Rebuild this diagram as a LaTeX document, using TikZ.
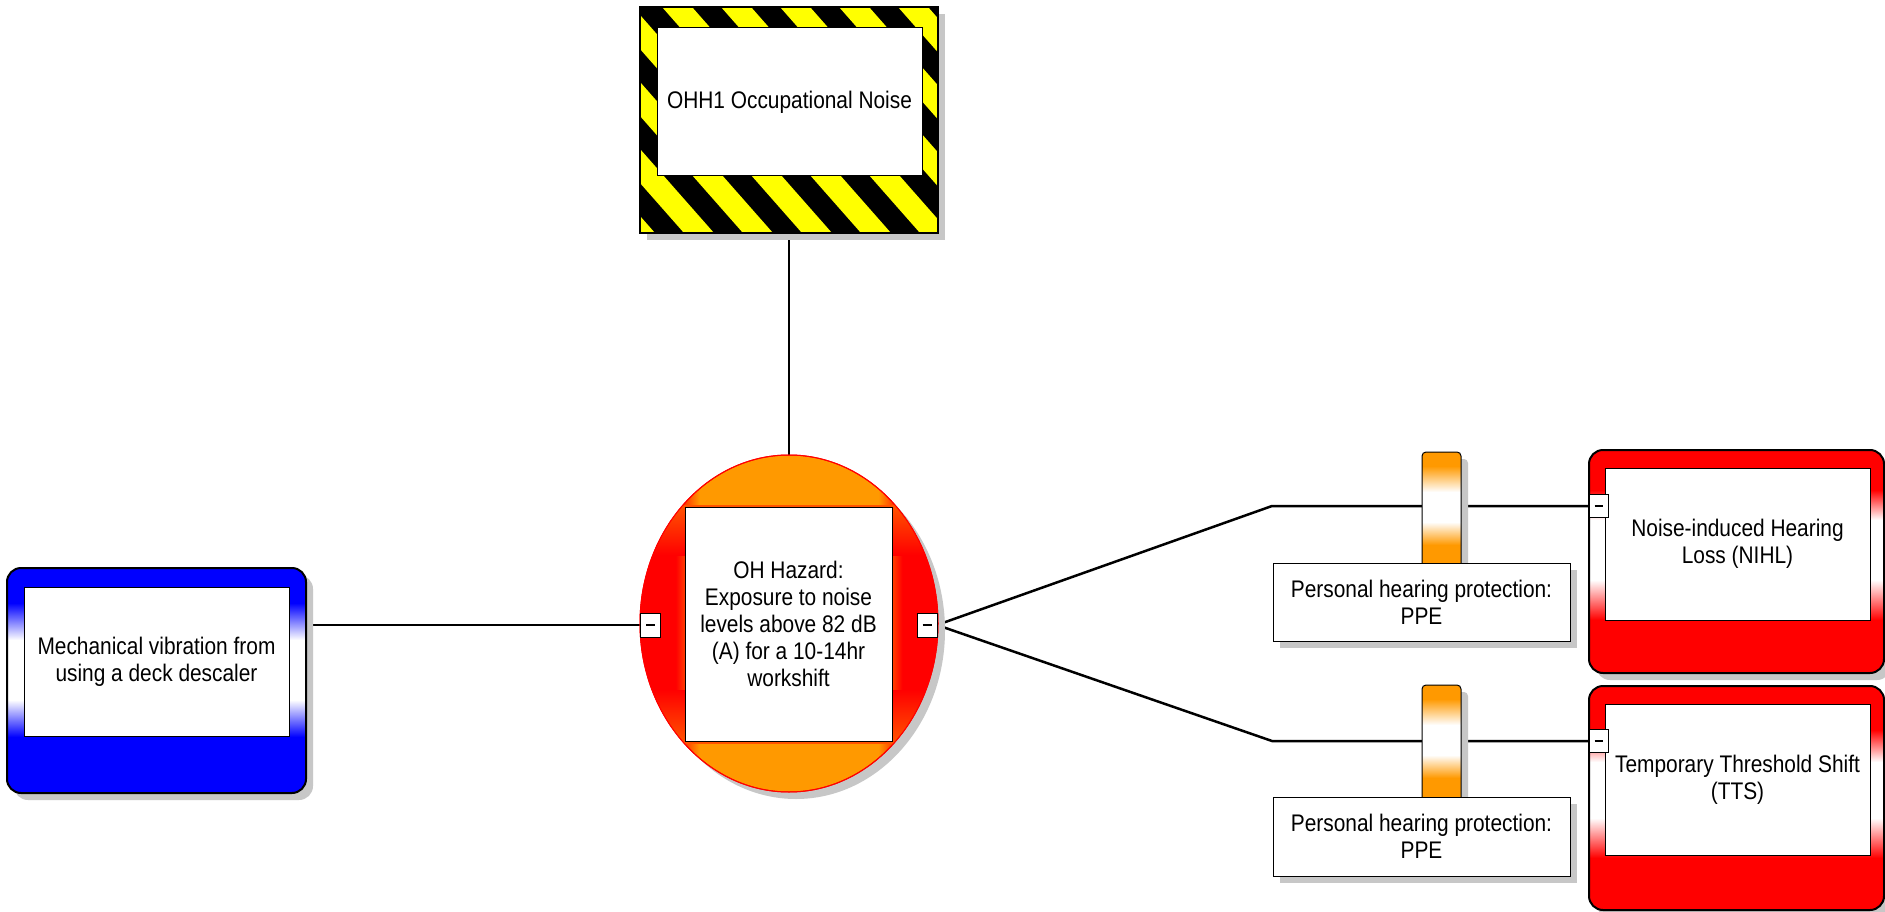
\documentclass[tikz,border=0pt]{standalone}
\usepackage{fontspec}
\setmainfont{Liberation Sans}[FakeStretch=0.87]
\usetikzlibrary{shapes.geometric,shadows}
\definecolor{bworange}{RGB}{255,153,0}
\definecolor{bwred}{RGB}{255,0,0}
\definecolor{bwblue}{RGB}{0,0,255}
\definecolor{bwyellow}{RGB}{255,255,0}
\colorlet{shadowc}{black!22}
\colorlet{redorange}{bworange!55!bwred}
\pgfdeclarehorizontalshading{ohgrad}{100bp}{rgb(0bp)=(1,0,0); rgb(31bp)=(1,0,0); rgb(35bp)=(1,0.6,0); rgb(65bp)=(1,0.6,0); rgb(69bp)=(1,0,0); rgb(100bp)=(1,0,0)}
\pgfdeclarelayer{bg}
\pgfsetlayers{bg,main}
% gradient fill: #1 colour, #2 x1, #3 ytop, #4 x2, #5 ybottom, #6..#9 band limits
\newcommand\gradfill[9]{%
  \fill[shadowc, rounded corners=\gradr] ({#2+7},{#3+7}) rectangle ({#4+7},{#5+7});
  \begin{scope}
    \clip[rounded corners=\gradr] (#2,#3) rectangle (#4,#5);
    \fill[#1] (#2,#3) rectangle (#4,#5);
    \shade[top color=#1, bottom color=white] (#2,#6) rectangle (#4,#7);
    \fill[white] (#2,#7) rectangle (#4,#8);
    \shade[top color=white, bottom color=#1] (#2,#8) rectangle (#4,#9);
  \end{scope}}
\begin{document}
\begin{tikzpicture}[x=1pt,y=-1pt,
  every node/.style={inner sep=0pt, outer sep=0pt},
  txt/.style={font=\fontsize{24}{27}\selectfont, align=center},
  shad/.style={drop shadow={shadow xshift=7pt,shadow yshift=-7pt,fill=shadowc,opacity=1}},
  outerbox/.style={draw=black, line width=2pt, rounded corners=14pt},
  innerbox/.style={draw=black, line width=1pt, fill=white, txt},
  minusbox/.style={draw=black, line width=1pt, fill=white, minimum width=20pt, minimum height=24pt},
  barrierbox/.style={draw=black, line width=1pt, rounded corners=4pt, minimum width=39pt},
  ppebox/.style={draw=black, line width=1pt, fill=white, minimum width=297pt, minimum height=78pt, txt, shad},
  conn/.style={draw=black, line width=2.5pt}
]
\begin{pgfonlayer}{bg}
\fill[white] (0,0) rectangle (1885,912);
\end{pgfonlayer}
\useasboundingbox (0,0) rectangle (1885,912);

% cause (threat)
\def\gradr{14pt}
\gradfill{bwblue}{7}{568}{306}{793}{603}{640}{700}{737}
\node[outerbox, minimum width=299pt, minimum height=225pt] (cause) at (156.5,680.5) {};
\node[innerbox, minimum width=265pt, minimum height=149pt] (causet) at (156.5,661.5) {Mechanical vibration from\\using a deck descaler};

% hazard
\fill[shadowc] (647,14) rectangle (945,240);
\begin{scope}
\clip (640,7) rectangle (938,233);
\fill[black] (640,7) rectangle (938,233);
\foreach \k in {-5,...,5} {
  \fill[bwyellow] ({662+59*\k},7) -- ++(30,0) -- ++(199,226) -- ++(-30,0) -- cycle;
}
\end{scope}
\node[draw=black, line width=2pt, minimum width=298pt, minimum height=226pt] (hazard) at (789,120) {};
\node[innerbox, minimum width=265pt, minimum height=148pt] (hazardt) at (789.5,102) {OHH1 Occupational Noise};

% top event
\node[ellipse, draw=bwred, line width=1pt, shading=ohgrad, minimum width=298pt, minimum height=337pt, shad] (top) at (789,623.5) {};
\begin{scope}
\clip (789,623.5) ellipse [x radius=149, y radius=168.5];
\shade[top color=redorange, bottom color=bwred] (640,505) rectangle (938,555);
\shade[top color=bwred, bottom color=redorange] (640,690) rectangle (938,743);
\end{scope}
\draw[bwred, line width=1pt] (789,623.5) ellipse [x radius=149, y radius=168.5];
\node[innerbox, minimum width=207pt, minimum height=234pt] (topt) at (788.5,624) {OH Hazard:\\Exposure to noise\\levels above 82 dB\\(A) for a 10-14hr\\workshift};
\node[minusbox] (lm) at (650.5,625) {\rule{9pt}{2pt}};
\node[minusbox] (rm) at (927,625) {\rule{9pt}{2pt}};

% barriers
\def\gradr{4pt}
\gradfill{bworange}{1422}{452}{1461}{575}{466}{492}{522}{545}
\node[barrierbox, minimum height=123pt] (b1) at (1441.5,513.5) {};
\node[ppebox] (p1) at (1421.5,602) {Personal hearing protection:\\PPE};
\gradfill{bworange}{1422}{685}{1461}{810}{699}{725}{755}{778}
\node[barrierbox, minimum height=125pt] (b2) at (1441.5,747.5) {};
\node[ppebox, minimum height=79pt] (p2) at (1421.5,836.5) {Personal hearing protection:\\PPE};

% consequences
\def\gradr{14pt}
\gradfill{bwred}{1589}{450}{1884}{673}{490}{520}{580}{620}
\node[outerbox, minimum width=295pt, minimum height=223pt] (c1) at (1736.5,561.5) {};
\node[innerbox, minimum width=265pt, minimum height=152pt] (c1t) at (1737.5,544) {Noise-induced Hearing\\Loss (NIHL)};
\node[minusbox, minimum width=19pt, minimum height=23pt] (nm) at (1598.5,506) {\rule{8pt}{2pt}};
\gradfill{bwred}{1589}{686}{1884}{910}{730}{762}{818}{858}
\node[outerbox, minimum width=295pt, minimum height=224pt] (c2) at (1736.5,798) {};
\node[innerbox, minimum width=265pt, minimum height=151pt] (c2t) at (1737.5,779.5) {Temporary Threshold Shift\\(TTS)};
\node[minusbox, minimum width=19pt, minimum height=23pt] (tm) at (1598.5,741) {\rule{8pt}{2pt}};

% connectors
\begin{pgfonlayer}{bg}
\coordinate (j1) at (1272,506);
\coordinate (j2) at (1272,741);
\draw[conn] (hazard.south) -- (top.north);
\draw[conn] (lm.west -| cause.east) -- (lm.west);
\draw[conn] (rm.east) -- (j1) -- (nm.west);
\draw[conn] (rm.east) -- (j2) -- (tm.west);
\end{pgfonlayer}
\end{tikzpicture}
\end{document}
